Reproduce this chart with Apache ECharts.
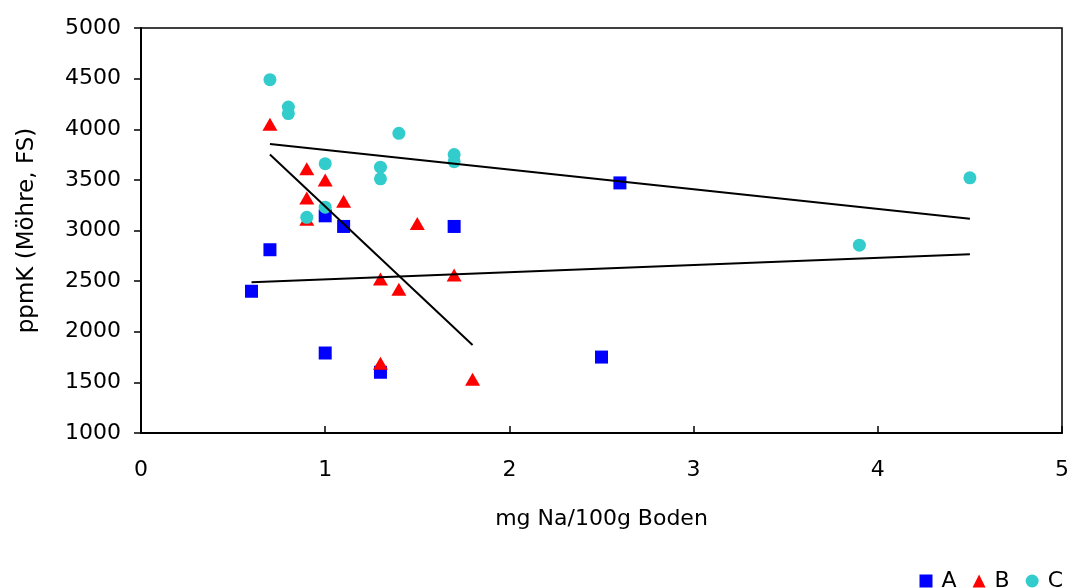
<!DOCTYPE html>
<html>
<head>
<meta charset="utf-8">
<script src="https://cdn.jsdelivr.net/npm/echarts@6/dist/echarts.min.js"></script>
<style>
  html, body { margin: 0; padding: 0; background: #fff; }
  #chart { width: 1072px; height: 588px; }
</style>
</head>
<body>
<div id="chart"></div>
<script>
// data: [mg Na/100g Boden, ppmK]
var seriesA = [[0.6, 2400], [0.7, 2810], [1.0, 3145], [1.1, 3040], [1.0, 1790],
    [1.3, 1600], [1.7, 3040], [2.5, 1750], [2.6, 3470]];
var seriesB = [[0.7, 4050], [0.9, 3610], [1.0, 3500], [0.9, 3320], [0.9, 3110],
    [1.1, 3290], [1.5, 3070], [1.3, 2520], [1.4, 2420], [1.7, 2560],
    [1.3, 1690], [1.8, 1530]];
var seriesC = [[0.7, 4490], [0.8, 4220], [0.8, 4155], [1.0, 3660], [1.0, 3230],
    [0.9, 3130], [1.4, 3960], [1.3, 3625], [1.3, 3510], [1.7, 3750],
    [1.7, 3680], [3.9, 2855], [4.5, 3520]];
// trend lines (end points)
var trendA = [[0.6, 2490], [4.5, 2765]];
var trendB = [[0.7, 3750], [1.8, 1870]];
var trendC = [[0.7, 3855], [4.5, 3115]];

var xTicks = { min: 0, max: 5, interval: 1 };
var yTicks = { min: 1000, max: 5000, interval: 500 };

var font = 'DejaVu Sans';
var chart = echarts.init(document.getElementById('chart'));

function trendLine(name, data) {
    return {
        name: name,
        type: 'line',
        data: data,
        showSymbol: false,
        symbol: 'none',
        silent: true,
        lineStyle: { color: '#000', width: 2 },
        z: 5
    };
}

var option = {
    animation: false,
    backgroundColor: '#fff',
    textStyle: { fontFamily: font, color: '#000' },
    grid: {
        left: 141, right: 6, top: 28, bottom: 155,
        show: true, borderColor: '#000', borderWidth: 1.5, backgroundColor: 'transparent'
    },
    legend: {
        data: ['A', 'B', 'C'],
        right: 4,
        top: 565,
        itemWidth: 13,
        itemHeight: 13,
        itemGap: 16,
        textStyle: { fontFamily: font, fontSize: 22, color: '#000', padding: [0, 0, 0, 4] }
    },
    xAxis: {
        type: 'value',
        min: xTicks.min, max: xTicks.max, interval: xTicks.interval,
        name: 'mg Na/100g Boden',
        nameLocation: 'middle',
        nameGap: 75,
        nameTextStyle: { fontFamily: font, fontSize: 22, color: '#000' },
        axisLine: { onZero: false, lineStyle: { color: '#000', width: 2 } },
        axisTick: { inside: true, length: 7, lineStyle: { color: '#000', width: 1.5 } },
        axisLabel: { margin: 26, fontFamily: font, fontSize: 22, color: '#000' },
        splitLine: { show: false }
    },
    yAxis: {
        type: 'value',
        min: yTicks.min, max: yTicks.max, interval: yTicks.interval,
        name: 'ppmK (Möhre, FS)',
        nameLocation: 'middle',
        nameGap: 102,
        nameRotate: 90,
        nameTextStyle: { fontFamily: font, fontSize: 23, color: '#000' },
        axisLine: { onZero: false, lineStyle: { color: '#000', width: 2 } },
        axisTick: { length: 7, lineStyle: { color: '#000', width: 1.5 } },
        axisLabel: {
            margin: 20, fontFamily: font, fontSize: 22, color: '#000',
            formatter: function (v) { return String(v); }
        },
        splitLine: { show: false }
    },
    series: [
        {
            name: 'A', type: 'scatter', data: seriesA,
            symbol: 'rect', symbolSize: 13,
            itemStyle: { color: '#0000ff', opacity: 1 }, z: 2
        },
        {
            name: 'B', type: 'scatter', data: seriesB,
            symbol: 'triangle', symbolSize: [15, 13],
            itemStyle: { color: '#ff0000', opacity: 1 }, z: 3
        },
        {
            name: 'C', type: 'scatter', data: seriesC,
            symbol: 'circle', symbolSize: 13,
            itemStyle: { color: '#33cccc', opacity: 1 }, z: 4
        },
        trendLine('trendA', trendA),
        trendLine('trendB', trendB),
        trendLine('trendC', trendC)
    ]
};

chart.setOption(option);
</script>
</body>
</html>
